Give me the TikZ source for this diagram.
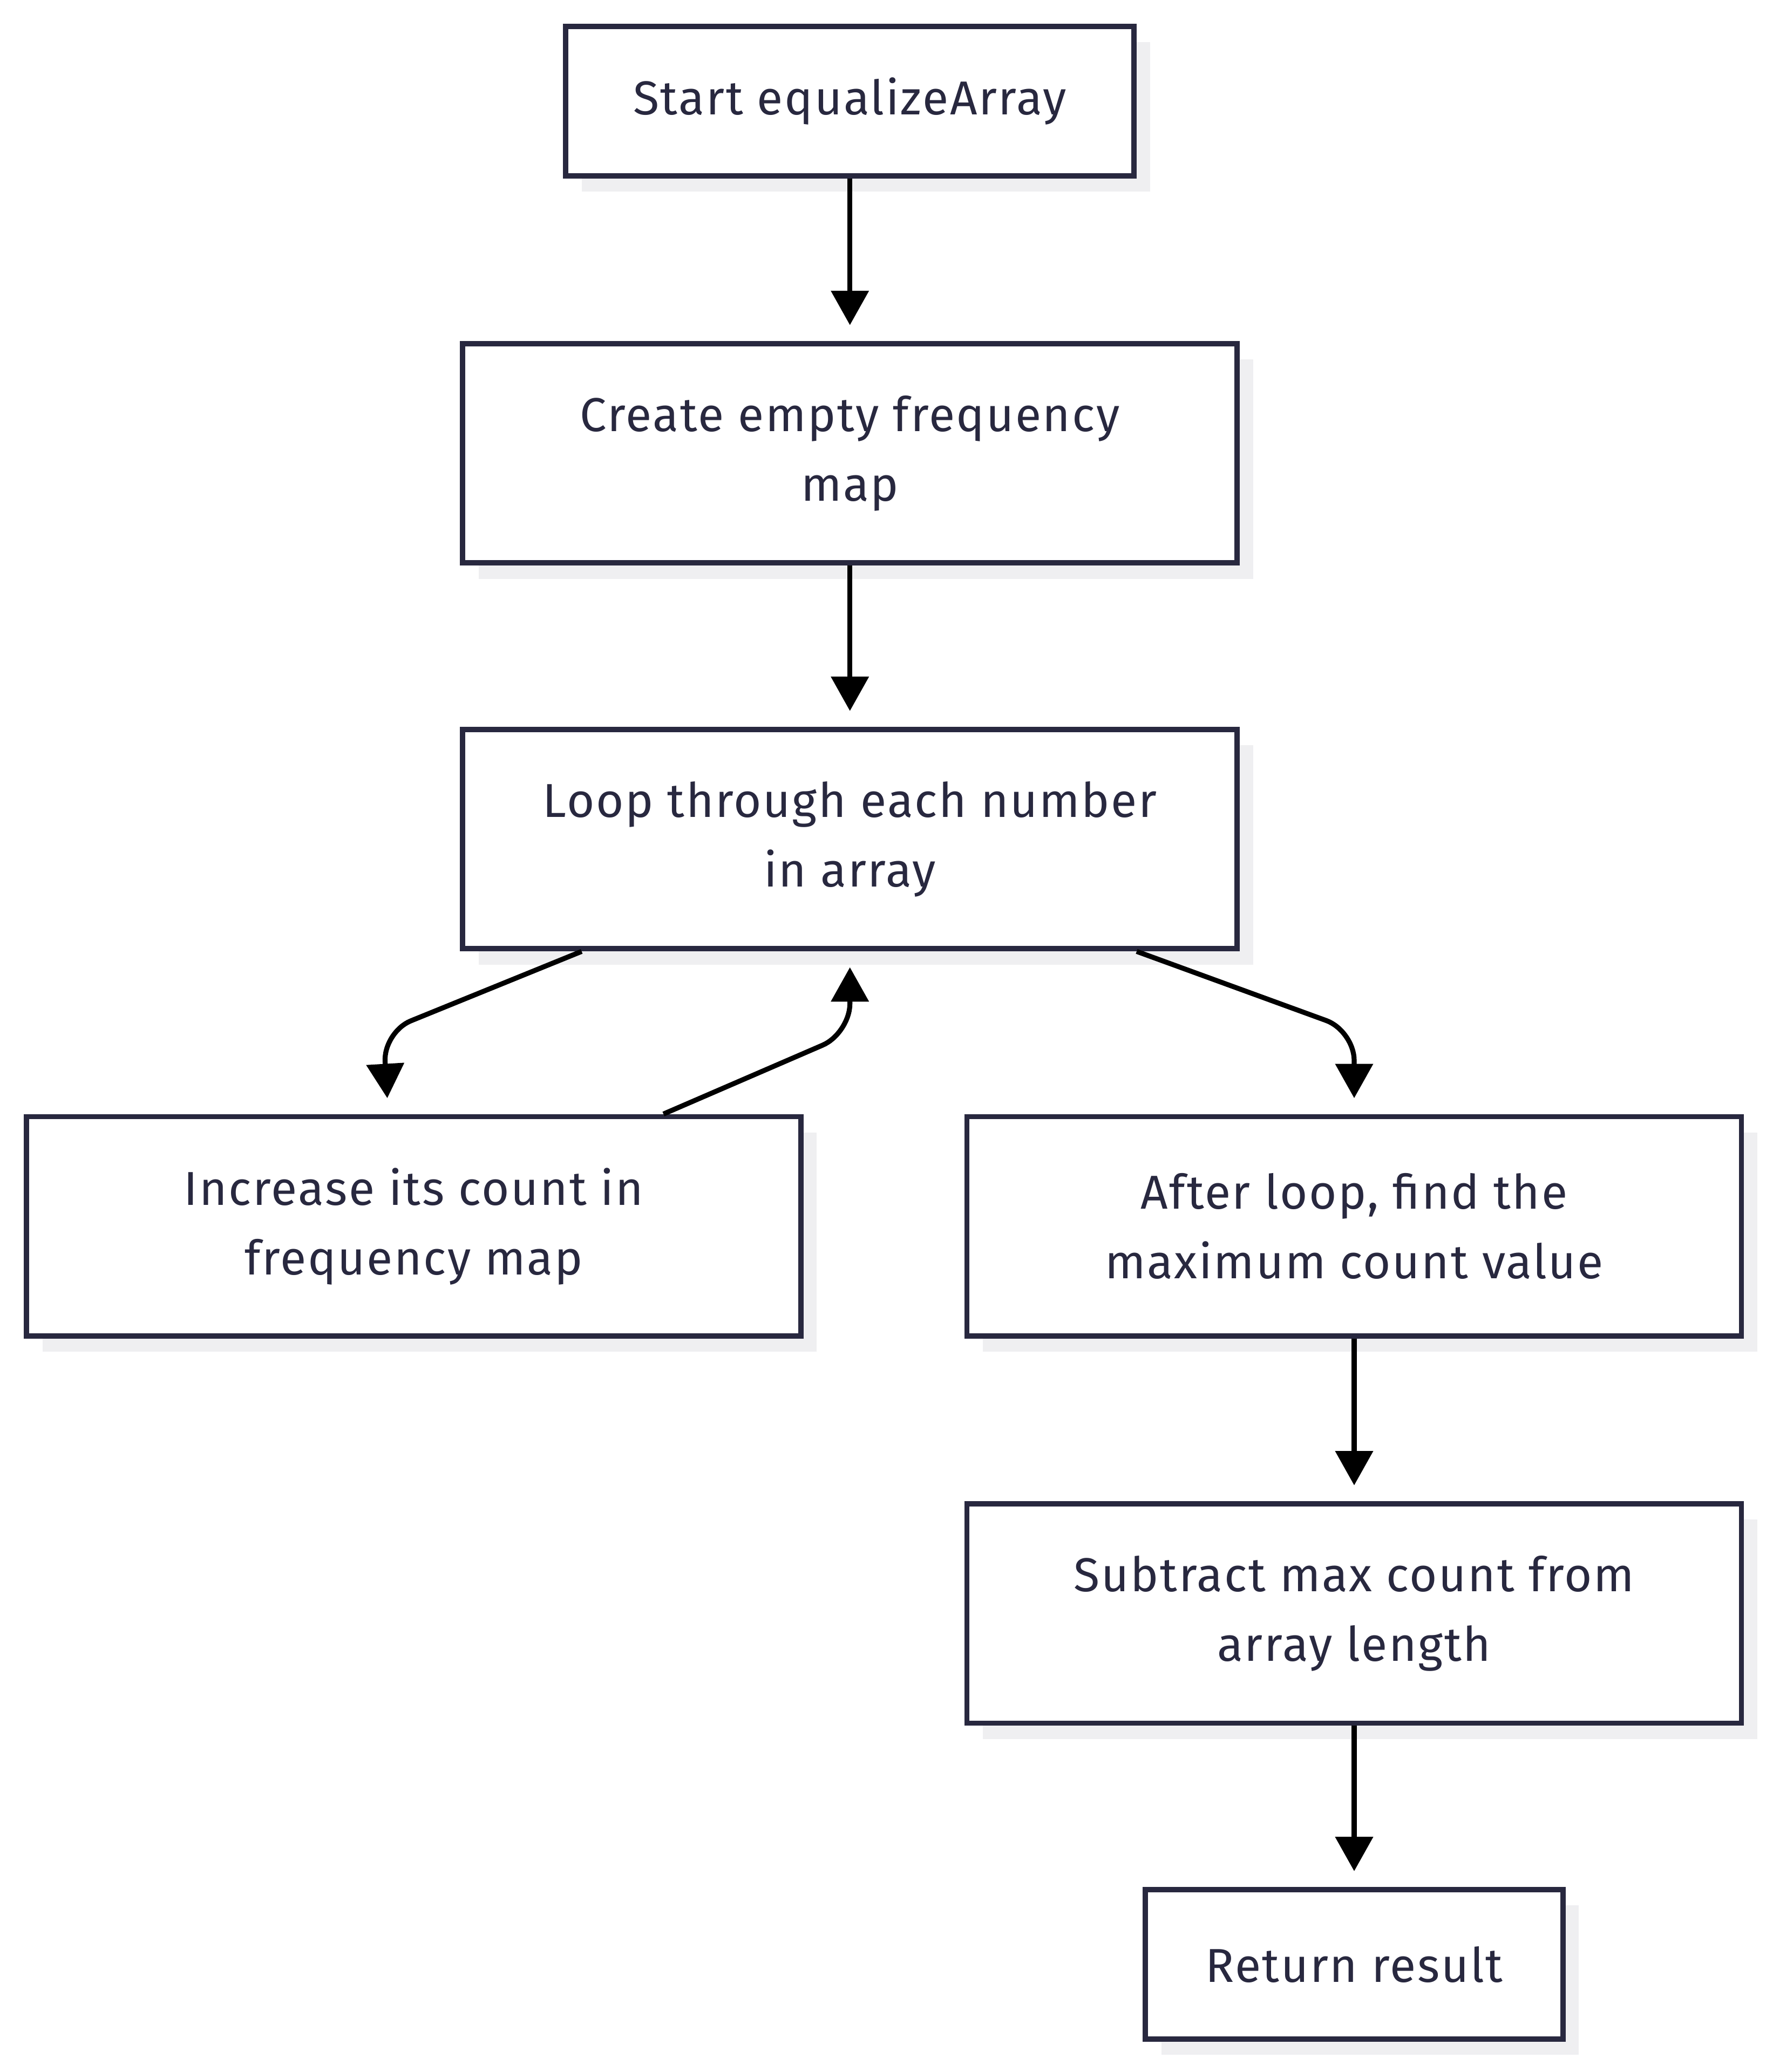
\documentclass[tikz,border=0pt]{standalone}
\usepackage{fontspec}
\setmainfont[LetterSpace=3]{Fira Sans}
\usetikzlibrary{arrows.meta,shadows}
\definecolor{inkc}{HTML}{28283F}
\definecolor{shadowc}{HTML}{EFEFF1}
\tikzset{
  stepbox/.style={draw=inkc,line width=0.08cm,fill=white,text=inkc,align=center,
    inner sep=0pt,font={\fontsize{20.5}{30}\selectfont},
    drop shadow={shadow xshift=0.24cm,shadow yshift=-0.24cm,fill=shadowc,opacity=1}},
  arr/.style={-{Triangle[length=0.52cm,width=0.56cm]},line width=0.075cm,black},
}
\begin{document}
\begin{tikzpicture}[x=0.02cm,y=-0.02cm]
    \useasboundingbox (0,0) rectangle (1341,1568);
    \def\gap{0.24cm}     %gap between arrow tip and box
    % boxes
    \node[stepbox,minimum width=8.6cm,minimum height=2.26cm] (start) at (643,76.5) {Start equalizeArray};
    \node[stepbox,minimum width=11.72cm,minimum height=3.32cm] (create) at (643,343) {Create empty frequency\\map};
    \node[stepbox,minimum width=11.72cm,minimum height=3.32cm] (loop) at (643,635) {Loop through each number\\in array};
    \node[stepbox,minimum width=11.72cm,minimum height=3.32cm] (inc) at (313,928) {Increase its count in\\frequency map};
    \node[stepbox,minimum width=11.72cm,minimum height=3.32cm] (after) at (1024.5,928) {After loop, find the\\maximum count value};
    \node[stepbox,minimum width=11.72cm,minimum height=3.32cm] (sub) at (1024.5,1221) {Subtract max count from\\array length};
    \node[stepbox,minimum width=6.32cm,minimum height=2.26cm] (ret) at (1024.5,1486.5) {Return result};
    % straight arrows
    \draw[arr] (start.south) -- ([yshift=\gap]create.north);
    \draw[arr] (create.south) -- ([yshift=\gap]loop.north);
    \draw[arr] (after.south) -- ([yshift=\gap]sub.north);
    \draw[arr] (sub.south) -- ([yshift=\gap]ret.north);
    % loop arrows
    \draw[arr,rounded corners=0.45cm] ([xshift=-4.06cm]loop.south) -- (290,781) -- ([xshift=-0.4cm,yshift=\gap]inc.north);
    \draw[arr,rounded corners=0.45cm] ([xshift=3.78cm]inc.north) -- (643,782) -- ([yshift=-\gap]loop.south);
    \draw[arr,rounded corners=0.45cm] ([xshift=4.34cm]loop.south) -- (1024.5,780) -- ([yshift=\gap]after.north);
\end{tikzpicture}
\end{document}
